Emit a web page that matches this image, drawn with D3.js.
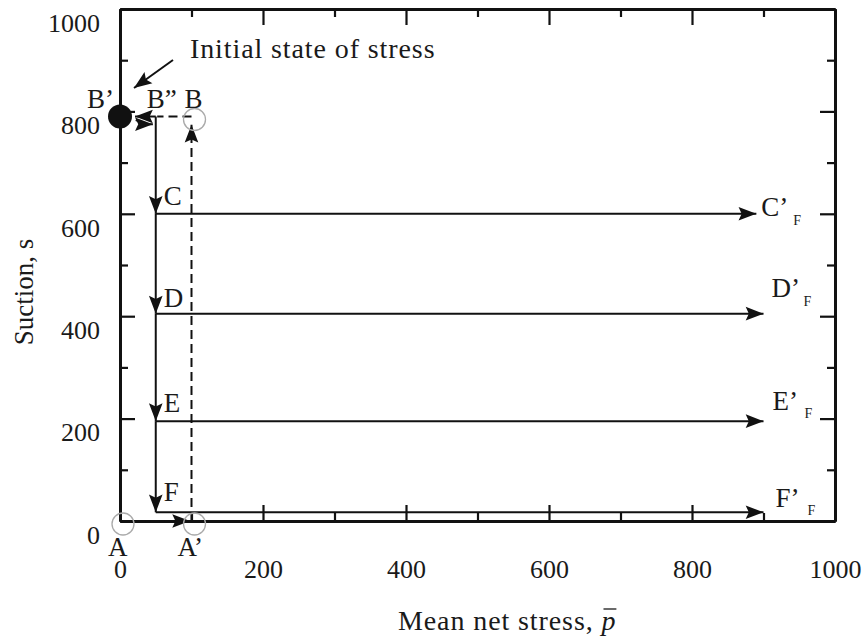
<!DOCTYPE html>
<html>
<head>
<meta charset="utf-8">
<script src="https://cdn.jsdelivr.net/npm/d3@7"></script>
<style>
  html, body { margin: 0; padding: 0; background: #fff; }
  svg text { font-family: "Liberation Serif", "Times New Roman", serif; fill: #1a1a1a; }
</style>
</head>
<body>
<svg id="chart" width="868" height="637"></svg>
<script>
// Axis ticks
const majorTicks = [0, 200, 400, 600, 800, 1000];
const minorTicks = [100, 300, 500, 700, 900];

// Stress path states (mean net stress p, suction s)
const initialState = [0, 790];          // B'
const pointA = [0, 0];
const pointA1 = [100, 0];               // A'
const pointB = [100, 790];
const pointB2 = [50, 790];              // B''

// Wetting stages along p = 50 and the subsequent shearing paths
const stageNames = ["C", "D", "E", "F"];
const stageSuction = [600, 405, 195, 17];
const stageP = 50;
const shearEndP = [890, 900, 900, 900];

// Loading/drying legs (dashed) and equalisation arrows
const dashedArrowLegs = [
  [[4, 0], [98, 0]],
  [[100, 0], [100, 774]]
];
const dashedLegs = [[[100, 790], [52, 790]]];
const returnArrow = [[50, 790], [21, 790]];
const forwardArrow = [[22, 783], [38, 775], [46, 775]];

const svg = d3.select("#chart");
const x = d3.scaleLinear().domain([0, 1000]).range([120, 835]);
const y = d3.scaleLinear().domain([0, 1000]).range([521, 9]);

// Arrowhead marker
const defs = svg.append("defs");
defs.append("marker")
  .attr("id", "head")
  .attr("markerUnits", "userSpaceOnUse")
  .attr("markerWidth", 22).attr("markerHeight", 20)
  .attr("viewBox", "-19 -8 21 16")
  .attr("refX", 0).attr("refY", 0)
  .attr("orient", "auto")
  .append("path")
  .attr("d", "M0,0 L-17,-6.5 L-14,0 L-17,6.5 Z")
  .attr("fill", "#111");

// ---- Axes (ticks pointing inward on all four sides) ----
function styleAxis(g) {
  g.selectAll(".domain").attr("stroke", "#111").attr("stroke-width", 3);
  g.selectAll(".tick line").attr("stroke", "#111").attr("stroke-width", 2.2);
}
const fmt = d3.format("d");

const leftMajor = svg.append("g").attr("transform", `translate(${x(0)},0)`)
  .call(d3.axisLeft(y).tickValues(majorTicks).tickFormat(fmt).tickSize(-15).tickSizeOuter(0).tickPadding(20))
  .call(styleAxis);
leftMajor.selectAll("text").attr("font-size", 26).attr("dy", "0.86em")
  .style("font-family", "Liberation Serif").attr("fill", "#1a1a1a");
svg.append("g").attr("transform", `translate(${x(0)},0)`)
  .call(d3.axisLeft(y).tickValues(minorTicks).tickSize(-8).tickSizeOuter(0).tickFormat(""))
  .call(styleAxis);

const bottomMajor = svg.append("g").attr("transform", `translate(0,${y(0)})`)
  .call(d3.axisBottom(x).tickValues(majorTicks).tickFormat(fmt).tickSize(-16).tickSizeOuter(0))
  .call(styleAxis);
bottomMajor.selectAll("text").attr("font-size", 26).attr("y", 57).attr("dy", 0)
  .style("font-family", "Liberation Serif").attr("fill", "#1a1a1a");
svg.append("g").attr("transform", `translate(0,${y(0)})`)
  .call(d3.axisBottom(x).tickValues(minorTicks).tickSize(-8).tickSizeOuter(0).tickFormat(""))
  .call(styleAxis);

svg.append("g").attr("transform", `translate(${x(1000)},0)`)
  .call(d3.axisRight(y).tickValues(majorTicks).tickSize(-15).tickSizeOuter(0).tickFormat(""))
  .call(styleAxis);
svg.append("g").attr("transform", `translate(${x(1000)},0)`)
  .call(d3.axisRight(y).tickValues(minorTicks).tickSize(-8).tickSizeOuter(0).tickFormat(""))
  .call(styleAxis);
svg.append("g").attr("transform", `translate(0,${y(1000)})`)
  .call(d3.axisTop(x).tickValues(majorTicks).tickSize(-16).tickSizeOuter(0).tickFormat(""))
  .call(styleAxis);
svg.append("g").attr("transform", `translate(0,${y(1000)})`)
  .call(d3.axisTop(x).tickValues(minorTicks).tickSize(-8).tickSizeOuter(0).tickFormat(""))
  .call(styleAxis);

// ---- Axis titles ----
const xTitleX = 398, xTitleY = 630;
const xTitle = svg.append("text")
  .attr("x", xTitleX).attr("y", xTitleY)
  .attr("font-size", 28).attr("letter-spacing", 0.9);
xTitle.append("tspan").text("Mean net stress, ");
const pSym = xTitle.append("tspan").attr("font-style", "italic").text("p");

svg.append("text")
  .attr("transform", "translate(33,292) rotate(-90)")
  .attr("text-anchor", "middle")
  .attr("font-size", 27)
  .text("Suction, s");

// ---- Paths ----
const line = d3.line().x(d => x(d[0])).y(d => y(d[1]));

const paths = svg.append("g").attr("fill", "none").attr("stroke", "#111").attr("stroke-width", 2);

// Dashed legs A -> A' -> B -> B''
paths.selectAll(".dash-arrow").data(dashedArrowLegs).join("path")
  .attr("d", line).attr("stroke-dasharray", "9,5").attr("marker-end", "url(#head)");
paths.selectAll(".dash-leg").data(dashedLegs).join("path")
  .attr("d", line).attr("stroke-dasharray", "9,5");

// Equalisation arrows between B'' and B'
paths.append("path").datum(returnArrow).attr("d", line).attr("marker-end", "url(#head)");
paths.append("path").datum(forwardArrow).attr("d", line).attr("marker-end", "url(#head)");

// Wetting steps B'' -> C -> D -> E -> F
const wetStarts = [pointB2[1]].concat(stageSuction.slice(0, -1));
paths.selectAll(".wet").data(stageSuction.map((s, i) => [[stageP, wetStarts[i]], [stageP, s]])).join("path")
  .attr("d", line).attr("marker-end", "url(#head)");

// Shearing paths C -> C'F etc.
paths.selectAll(".shear").data(stageSuction.map((s, i) => [[stageP, s], [shearEndP[i], s]])).join("path")
  .attr("d", line).attr("marker-end", "url(#head)");

// ---- State markers ----
svg.selectAll(".open").data([pointA, pointA1, pointB]).join("circle")
  .attr("cx", d => x(d[0]) + 3).attr("cy", d => y(d[1]) + 3).attr("r", 11)
  .attr("fill", "none").attr("stroke", "#aaa").attr("stroke-width", 1.3);
svg.append("circle")
  .attr("cx", x(initialState[0])).attr("cy", y(initialState[1])).attr("r", 12)
  .attr("fill", "#111");

// ---- Point labels ----
const labels = svg.append("g").attr("font-size", 27);
const pointLabels = [
  { text: "B’", p: initialState[0], s: initialState[1], dx: -33, dy: -18 },
  { text: "B”", p: pointB2[0], s: pointB2[1], dx: -9, dy: -18 },
  { text: "B", p: pointB[0], s: pointB[1], dx: -7, dy: -18 },
  { text: "A", p: pointA[0], s: pointA[1], dx: -12, dy: 26 },
  { text: "A’", p: pointA1[0], s: pointA1[1], dx: -14, dy: 26 }
];
stageNames.forEach((n, i) => {
  const offs = [-18, -16, -19, -21];
  pointLabels.push({ text: n, p: stageP, s: stageSuction[i], dx: 8, dy: offs[i] });
});
labels.selectAll("text.pt").data(pointLabels).join("text")
  .attr("x", d => x(d.p) + d.dx).attr("y", d => y(d.s) + d.dy).attr("dy", "0.35em")
  .text(d => d.text);

// End labels with subscript F
const endOffsets = [[5, -7], [8, -26], [9, -21], [12, -15]];
const endG = labels.selectAll("g.end").data(stageNames).join("g")
  .attr("transform", (d, i) => `translate(${x(shearEndP[i]) + endOffsets[i][0]},${y(stageSuction[i]) + endOffsets[i][1]})`);
endG.append("text").attr("dy", "0.35em").text(d => d + "’");
endG.append("text").attr("x", 32).attr("y", 13).attr("dy", "0.35em")
  .attr("font-size", 14).text("F");

// Annotation for the initial state
svg.append("text").attr("x", 190).attr("y", 58).attr("font-size", 28)
  .attr("letter-spacing", 0.9).text("Initial state of stress");
svg.append("path")
  .attr("d", d3.line()([[173, 60], [134, 88]]))
  .attr("stroke", "#111").attr("stroke-width", 2).attr("fill", "none")
  .attr("marker-end", "url(#head)");

// Overbar on the italic p of the x title
const pLen = pSym.node().getComputedTextLength();
const xEnd = xTitleX + xTitle.node().getComputedTextLength();
svg.append("line")
  .attr("x1", xEnd - pLen + 2).attr("x2", xEnd)
  .attr("y1", xTitleY - 21).attr("y2", xTitleY - 21)
  .attr("stroke", "#1a1a1a").attr("stroke-width", 1.3);
</script>
</body>
</html>
